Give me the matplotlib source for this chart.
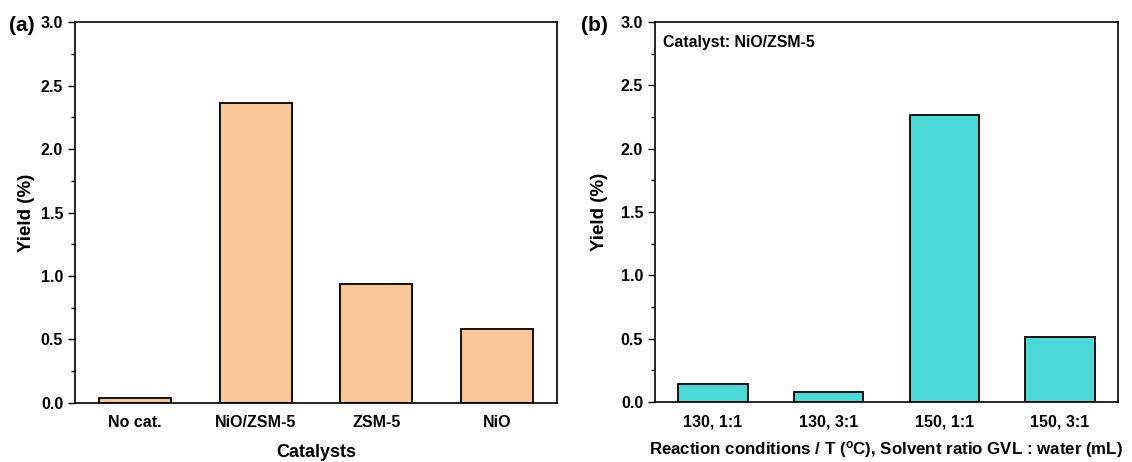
import matplotlib
matplotlib.use("Agg")
from matplotlib import pyplot as plt
from matplotlib.ticker import MultipleLocator

plt.rcParams['font.family'] = ['Liberation Sans', 'DejaVu Sans']
plt.rcParams['font.weight'] = 'bold'
plt.rcParams['mathtext.fontset'] = 'custom'
plt.rcParams['mathtext.rm'] = 'Liberation Sans:bold'
plt.rcParams['mathtext.bf'] = 'Liberation Sans:bold'

# panel (a) data
catalysts = ["No cat.", "NiO/ZSM-5", "ZSM-5", "NiO"]
yieldA = [0.04, 2.36, 0.94, 0.58]

# panel (b) data
conditions = ["130, 1:1", "130, 3:1", "150, 1:1", "150, 3:1"]
yieldB = [0.14, 0.08, 2.27, 0.51]

fig = plt.figure(figsize=(11.32, 4.62), dpi=100)
axA = fig.add_axes([0.0663, 0.128, 0.4257, 0.824])
axB = fig.add_axes([0.5786, 0.130, 0.409, 0.822])


def style_axes(ax, labels, values, color, xlabel, xsize, ypad, xpad):
    x = range(len(labels))
    ax.bar(x, values, width=0.6, color=color, edgecolor="black", linewidth=1.3)
    ax.set_xlim(-0.5, len(labels) - 0.5)
    ax.set_ylim(0, 3.0)
    ax.yaxis.set_major_locator(MultipleLocator(0.5))
    ax.yaxis.set_minor_locator(MultipleLocator(0.25))
    ax.set_xticks(list(x))
    ax.set_xticklabels(labels, fontsize=11.5, fontweight="bold")
    ax.tick_params(axis="x", length=0, pad=9)
    ax.tick_params(axis="y", which="major", direction="out", length=5, width=1, labelsize=11.5)
    ax.tick_params(axis="y", which="minor", direction="out", length=3, width=1)
    ax.set_yticklabels(["%.1f" % v for v in ax.get_yticks()], fontweight="bold")
    for s in ax.spines.values():
        s.set_linewidth(1.2)
    ax.set_ylabel("Yield (%)", fontsize=13.5, fontweight="bold", labelpad=ypad)
    ax.set_xlabel(xlabel, fontsize=xsize, fontweight="bold", labelpad=xpad)


style_axes(axA, catalysts, yieldA, "#FAC898", "Catalysts", 13, 4, 10)
style_axes(axB, conditions, yieldB, "#4DD8D8",
           r"Reaction conditions / T ($\mathbf{^{o}}$C), Solvent ratio GVL : water (mL)", 12.2, 9, 7)

fig.text(0.008, 0.932, "(a)", fontsize=15, fontweight="bold")
fig.text(0.513, 0.932, "(b)", fontsize=15, fontweight="bold")
axB.text(0.018, 0.965, "Catalyst: NiO/ZSM-5", transform=axB.transAxes,
         fontsize=11.4, fontweight="bold", va="top")

fig.savefig("out.png", dpi=100)
